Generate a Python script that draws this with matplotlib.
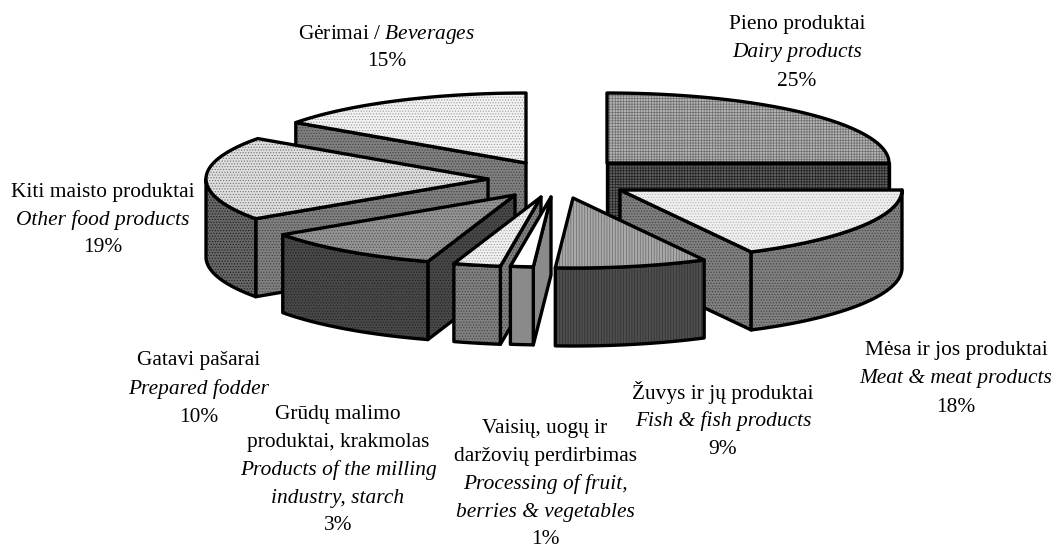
import numpy as np
import matplotlib
matplotlib.use('Agg')
import matplotlib.pyplot as plt
from matplotlib.patches import Polygon

plt.rcParams['font.family'] = ['Liberation Serif', 'DejaVu Serif']
plt.rcParams['mathtext.fontset'] = 'custom'
plt.rcParams['mathtext.it'] = 'Liberation Serif:italic'
plt.rcParams['mathtext.rm'] = 'Liberation Serif'
plt.rcParams['hatch.linewidth'] = 0.5

# slices clockwise from 12 o'clock
percent_labels = [25, 18, 9, 1, 3, 10, 19, 15]
# sweep as measured on the picture (rounded labels differ a bit)
sweep = [25, 17.3, 8.7, 1.3, 2.7, 10.4, 19.4, 15.2]

names_lt = [['Pieno produktai'], ['Mėsa ir jos produktai'], ['Žuvys ir jų produktai'],
            ['Vaisių, uogų ir', 'daržovių perdirbimas'], ['Grūdų malimo', 'produktai, krakmolas'],
            ['Gatavi pašarai'], ['Kiti maisto produktai'], []]
names_en = [['Dairy products'], ['Meat & meat products'], ['Fish & fish products'],
            ['Processing of fruit,', 'berries & vegetables'], ['Products of the milling', 'industry, starch'],
            ['Prepared fodder'], ['Other food products'], []]

# layout
apex_x = [607, 620, 573, 551, 541, 515, 488, 526]
apex_y = [163, 190, 198, 197, 197, 195, 179, 163]
label_x = [797, 956, 723, 545, 338, 199, 103, 387]
label_y = [25, 351, 393, 428, 414, 361, 192, 34]
RX, RY, DEPTH = 282, 70, 78
LINE_H = 28
FS = 15.4

# fills: face, hatch, hatch colour
top_style = [('#b4b4b4', '++++++', '#6e6e6e'), ('#f0f0f0', '......', '#b0b0b0'),
             ('#a8a8a8', '||||||', '#6a6a6a'), ('#ffffff', None, None),
             ('#f0f0f0', '......', '#a0a0a0'), ('#949494', '......', '#505050'),
             ('#dedede', '......', '#707070'), ('#f2f2f2', '......', '#9a9a9a')]
wall_style = [('#606060', '++++++', '#202020'), ('#808080', '......', '#404040'),
              ('#4e4e4e', '||||||', '#303030'), ('#8a8a8a', None, None),
              ('#808080', '......', '#404040'), ('#484848', '......', '#222222'),
              ('#808080', '......', '#404040'), ('#808080', '......', '#404040')]
arc_style = list(wall_style)
arc_style[6] = ('#666666', '......', '#1c1c1c')

draw_order = [7, 0, 6, 1, 5, 4, 3, 2]

fig = plt.figure(figsize=(10.54, 5.48), dpi=100)
ax = fig.add_axes([0, 0, 1, 1])
ax.set_xlim(0, 1054)
ax.set_ylim(548, 0)
ax.axis('off')


def shape(xy, style):
    face, hatch, hcol = style
    ax.add_patch(Polygon(xy, closed=True, facecolor=face, hatch=hatch,
                         edgecolor=hcol if hatch else face, linewidth=0))
    ax.add_patch(Polygon(xy, closed=True, fill=False, edgecolor='black',
                         linewidth=2.4, joinstyle='round'))


def rim(i, deg):
    c = np.radians(deg)
    return apex_x[i] + RX * np.sin(c), apex_y[i] - RY * np.cos(c)


def extrude(pts):
    pts = np.asarray(pts)
    low = pts[::-1] + [0, DEPTH]
    return np.vstack([pts, low])


ends = np.cumsum(sweep) / np.sum(sweep) * 360
starts = ends - np.array(sweep) / np.sum(sweep) * 360

for i in draw_order:
    c1, c2 = starts[i], ends[i]
    a = (apex_x[i], apex_y[i])
    # cut faces that look towards the viewer
    if np.sin(np.radians(c1)) < -1e-6:
        shape(extrude([a, rim(i, c1)]), wall_style[i])
    if np.sin(np.radians(c2)) > 1e-6:
        shape(extrude([rim(i, c2), a]), wall_style[i])
    # outer wall, only the near half of the rim
    lo, hi = max(c1, 90), min(c2, 270)
    if hi > lo:
        arc = [rim(i, d) for d in np.linspace(lo, hi, 60)]
        shape(extrude(arc), arc_style[i])
    top = [a] + [rim(i, d) for d in np.linspace(c1, c2, 80)]
    shape(top, top_style[i])

for i in range(len(percent_labels)):
    y = label_y[i]
    if i == 7:
        ax.text(label_x[i], y, 'Gėrimai / $\\mathit{Beverages}$', ha='center', va='center', fontsize=FS)
        y += 28
    for line in names_lt[i]:
        ax.text(label_x[i], y, line, ha='center', va='center', fontsize=FS)
        y += LINE_H
    for line in names_en[i]:
        ax.text(label_x[i], y, line, ha='center', va='center', fontsize=FS, style='italic')
        y += LINE_H
    ax.text(label_x[i], y, '%d%%' % percent_labels[i], ha='center', va='center', fontsize=FS)

fig.savefig('out.png', dpi=100)
